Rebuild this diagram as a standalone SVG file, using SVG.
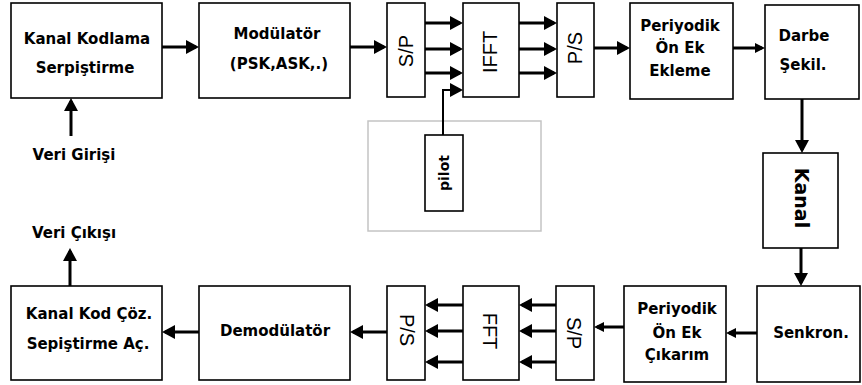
<svg xmlns="http://www.w3.org/2000/svg" width="862" height="385" viewBox="0 0 862 385">
<style>
.box{fill:#fff;stroke:#000;stroke-width:1.6}
.gray{fill:none;stroke:#c4c4c4;stroke-width:1.5}
.lb{font-family:"DejaVu Sans",Verdana,sans-serif;font-weight:bold;font-size:15px;text-anchor:middle;fill:#000}
.rt{font-family:"Liberation Sans",Arial,sans-serif;font-size:20px;text-anchor:middle;dominant-baseline:central;fill:#000}
.rb{font-family:"DejaVu Sans",Verdana,sans-serif;font-weight:bold;text-anchor:middle;dominant-baseline:central;fill:#000}
.c{fill:none;stroke:#000;stroke-width:3}
.cs{fill:none;stroke:#000;stroke-width:2}
</style>
<defs>
<marker id="ah" markerUnits="userSpaceOnUse" markerWidth="13" markerHeight="14" refX="10" refY="7" orient="auto">
<path d="M0,0 L13,7 L0,14 Z" fill="#000"/>
</marker>
<marker id="as" markerUnits="userSpaceOnUse" markerWidth="10" markerHeight="10" refX="7" refY="5" orient="auto">
<path d="M0,0 L10,5 L0,10 Z" fill="#000"/>
</marker>
</defs>
<rect width="862" height="385" fill="#fff"/>

<g id="n1"><rect class="box" x="11" y="3" width="151" height="95"/>
<text class="lb" x="87" y="44">Kanal Kodlama</text><text class="lb" x="85" y="73">Serpiştirme</text></g>
<g id="n2"><rect class="box" x="199" y="3" width="151" height="95"/>
<text class="lb" x="277" y="39">Modülatör</text><text class="lb" x="279" y="69">(PSK,ASK,.)</text></g>
<g id="n3"><rect class="box" x="387" y="3" width="38" height="94"/>
<text class="rt" transform="translate(406,51) rotate(-90)">S/P</text></g>
<g id="n4"><rect class="box" x="463" y="3" width="56" height="94"/>
<text class="rt" transform="translate(490,52) rotate(-90)">IFFT</text></g>
<g id="n5"><rect class="box" x="557" y="3" width="37" height="94"/>
<text class="rt" transform="translate(575,48) rotate(-90)">P/S</text></g>
<g id="n6"><rect class="box" x="630" y="3" width="103" height="96"/>
<text class="lb" x="680" y="31">Periyodik</text><text class="lb" x="680" y="53">Ön Ek</text><text class="lb" x="680" y="76">Ekleme</text></g>
<g id="n7"><rect class="box" x="765" y="5" width="94" height="94"/>
<text class="lb" x="804" y="41">Darbe</text><text class="lb" x="803" y="70">Şekil.</text></g>
<g id="n8"><rect class="box" x="763" y="153" width="75" height="95"/>
<text class="rb" font-size="19" transform="translate(802,198) rotate(90)">Kanal</text></g>
<g id="n9"><rect class="box" x="757" y="286" width="103" height="96"/>
<text class="lb" x="811" y="338">Senkron.</text></g>
<g id="n10"><rect class="box" x="624" y="286" width="102" height="96"/>
<text class="lb" x="677" y="314">Periyodik</text><text class="lb" x="677" y="338">Ön Ek</text><text class="lb" x="677" y="360">Çıkarım</text></g>
<g id="n11"><rect class="box" x="556" y="286" width="38" height="94"/>
<text class="rt" transform="translate(574,333) rotate(90)">S/P</text></g>
<g id="n12"><rect class="box" x="463" y="286" width="56" height="94"/>
<text class="rt" transform="translate(490,331) rotate(90)">FFT</text></g>
<g id="n13"><rect class="box" x="387" y="286" width="38" height="94"/>
<text class="rt" transform="translate(407,330) rotate(90)">P/S</text></g>
<g id="n14"><rect class="box" x="199" y="286" width="151" height="94"/>
<text class="lb" x="275" y="336">Demodülatör</text></g>
<g id="n15"><rect class="box" x="11" y="286" width="151" height="94"/>
<text class="lb" x="89" y="319">Kanal Kod Çöz.</text><text class="lb" x="88" y="349">Sepiştirme Aç.</text></g>
<g id="pilot"><rect class="gray" x="368" y="121" width="173" height="110"/>
<rect class="box" x="425" y="135" width="38" height="76"/>
<text class="rb" font-size="14" transform="translate(444,173) rotate(-90)">pilot</text></g>
<g id="in"><text class="lb" x="74" y="160">Veri Girişi</text></g>
<g id="out"><text class="lb" x="74" y="238">Veri Çıkışı</text></g>

<g id="connectors">
<path class="c" marker-end="url(#ah)" d="M162,47 H196"/>
<path class="c" marker-end="url(#ah)" d="M350,47 H384"/>
<path class="c" marker-end="url(#ah)" d="M425,23 H460"/>
<path class="c" marker-end="url(#ah)" d="M425,49 H460"/>
<path class="c" marker-end="url(#ah)" d="M425,73 H460"/>
<path class="cs" marker-end="url(#ah)" d="M443,135 V90 H460"/>
<path class="c" marker-end="url(#ah)" d="M519,23 H554"/>
<path class="c" marker-end="url(#ah)" d="M519,49 H554"/>
<path class="c" marker-end="url(#ah)" d="M519,73 H554"/>
<path class="c" marker-end="url(#ah)" d="M594,48 H627"/>
<path class="c" marker-end="url(#as)" d="M733,48 H762"/>
<path class="c" marker-end="url(#ah)" d="M802,99 V150"/>
<path class="c" marker-end="url(#ah)" d="M801,248 V283"/>
<path class="c" marker-end="url(#as)" d="M757,333 H729"/>
<path class="c" marker-end="url(#as)" d="M624,327 H597"/>
<path class="c" marker-end="url(#ah)" d="M556,305 H522"/>
<path class="c" marker-end="url(#ah)" d="M556,331 H522"/>
<path class="c" marker-end="url(#ah)" d="M556,362 H522"/>
<path class="c" marker-end="url(#ah)" d="M463,305 H428"/>
<path class="c" marker-end="url(#ah)" d="M463,331 H428"/>
<path class="c" marker-end="url(#ah)" d="M463,362 H428"/>
<path class="c" marker-end="url(#ah)" d="M387,332 H353"/>
<path class="c" marker-end="url(#ah)" d="M199,332 H165"/>
<path class="c" marker-end="url(#ah)" d="M71,136 V101"/>
<path class="c" marker-end="url(#ah)" d="M70,286 V251"/>
</g>
</svg>
